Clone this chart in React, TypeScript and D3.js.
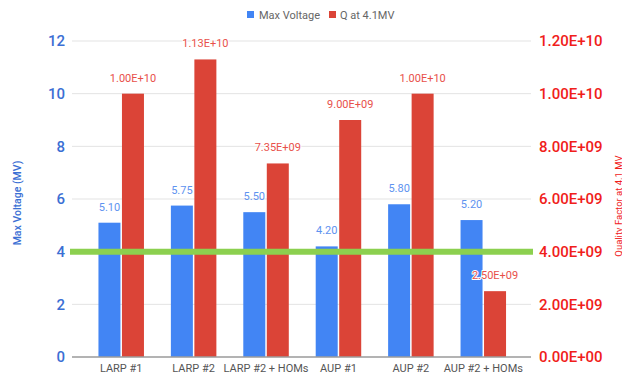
import React from "react";
import * as d3 from "d3";

const categories = ["LARP #1", "LARP #2", "LARP #2 + HOMs", "AUP #1", "AUP #2", "AUP #2 + HOMs"];
const maxVoltage = [5.1, 5.75, 5.5, 4.2, 5.8, 5.2];
const qAt41 = [1.0e10, 1.13e10, 7.35e9, 9.0e9, 1.0e10, 2.5e9];
const leftTicks = [0, 2, 4, 6, 8, 10, 12];
const rightTicks = [0, 2e9, 4e9, 6e9, 8e9, 1e10, 1.2e10];
const thresholdMV = 4;

const W = 622;
const H = 374;
const FONT = "Roboto, 'Noto Sans', sans-serif";

// Scientific notation like 1.13E+10
const fmtE = (v: number) => {
  const exp = v === 0 ? 0 : Math.floor(Math.log10(v));
  const m = v === 0 ? 0 : v / Math.pow(10, exp);
  const sign = exp >= 0 ? "+" : "-";
  return `${m.toFixed(2)}E${sign}${String(Math.abs(exp)).padStart(2, "0")}`;
};

export default function App() {
  const x = d3.scaleBand<string>().domain(categories).range([85, 519.5]);
  const yL = d3.scaleLinear().domain([0, 12]).range([357, 41]);
  const yR = d3.scaleLinear().domain([0, 1.2e10]).range([357, 41]);
  const barW = 22;
  const gap = 1.5;
  const gridX0 = 72;
  const gridX1 = 531;

  return (
    <svg width={W} height={H} style={{ position: "absolute", left: 0, top: 0, background: "#fff" }} fontFamily={FONT}>
      <rect width={W} height={H} fill="#fff" />
      {/* gridlines */}
      {leftTicks.map((t) => (
        <line key={t} x1={gridX0} x2={gridX1} y1={yL(t)} y2={yL(t)} stroke="#e3e3e3" strokeWidth={1} />
      ))}
      {/* left ticks */}
      {leftTicks.map((t) => (
        <text key={t} x={65} y={yL(t)} dy="0.36em" textAnchor="end" fontSize={15} fontWeight={500} fill="#3b6fd4">
          {t}
        </text>
      ))}
      {/* right ticks */}
      {rightTicks.map((t) => (
        <text key={t} x={539} y={yR(t)} dy="0.36em" textAnchor="start" fontSize={15} fontWeight={500} fill="#f0201a">
          {fmtE(t)}
        </text>
      ))}
      {/* bars */}
      {categories.map((c, i) => {
        const cx = (x(c) as number) + x.bandwidth() / 2;
        return (
          <g key={c}>
            <rect x={cx - gap / 2 - barW} y={yL(maxVoltage[i])} width={barW} height={yL(0) - yL(maxVoltage[i])} fill="#4285f4" />
            <rect x={cx + gap / 2} y={yR(qAt41[i])} width={barW} height={yR(0) - yR(qAt41[i])} fill="#db4437" />
          </g>
        );
      })}
      {/* baseline */}
      <line x1={gridX0} x2={gridX1} y1={yL(0)} y2={yL(0)} stroke="#9e9e9e" strokeWidth={1.5} />
      {/* threshold line */}
      <line x1={70} x2={533} y1={yL(thresholdMV)} y2={yL(thresholdMV)} stroke="#8cd04f" strokeWidth={6} />
      {/* value labels */}
      {categories.map((c, i) => {
        const cx = (x(c) as number) + x.bandwidth() / 2;
        const bx = cx - gap / 2 - barW / 2;
        const rx = cx + gap / 2 + barW / 2;
        return (
          <g key={c} fontSize={11}>
            <text x={bx} y={yL(maxVoltage[i]) - 12} textAnchor="middle" fill="#5e93f0">
              {maxVoltage[i].toFixed(2)}
            </text>
            <text
              x={rx}
              y={yR(qAt41[i]) - 12}
              textAnchor="middle"
              fill="#e8504a"
              stroke="#fff"
              strokeWidth={2}
              paintOrder="stroke"
            >
              {fmtE(qAt41[i])}
            </text>
          </g>
        );
      })}
      {/* category labels */}
      {categories.map((c) => (
        <text key={c} x={(x(c) as number) + x.bandwidth() / 2} y={372} textAnchor="middle" fontSize={11} fill="#555">
          {c}
        </text>
      ))}
      {/* legend */}
      <rect x={247} y={11} width={7} height={7} fill="#4285f4" />
      <text x={259} y={18.5} fontSize={11} fill="#666">Max Voltage</text>
      <rect x={329} y={11} width={7} height={7} fill="#db4437" />
      <text x={340} y={18.5} fontSize={11} fill="#666">Q at 4.1MV</text>
      {/* axis titles */}
      <text transform="translate(21,203) rotate(-90)" textAnchor="middle" fontSize={10.5} fontWeight={500} fill="#3b6fd4">
        Max Voltage (MV)
      </text>
      <text transform="translate(621.5,206) rotate(-90)" textAnchor="middle" fontSize={9.5} fill="#f0201a">
        Quality Factor at 4.1 MV
      </text>
    </svg>
  );
}
